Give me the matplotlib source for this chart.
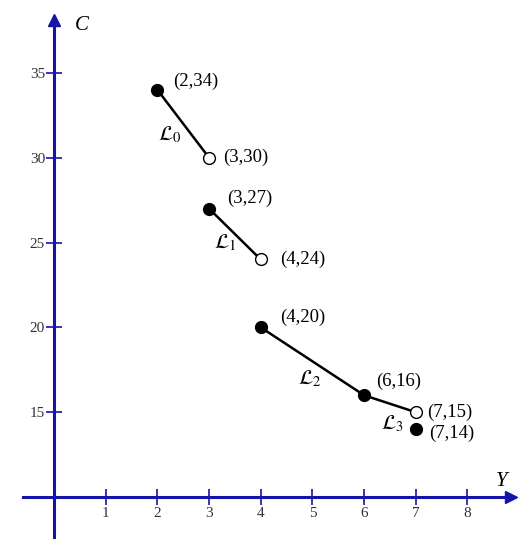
import matplotlib.pyplot as plt

plt.rcParams['font.family'] = ['Liberation Serif', 'DejaVu Serif']
plt.rcParams['mathtext.fontset'] = 'stix'

# pieces of the step function, start and end of each segment
seg_names = [r'$\mathcal{L}_0$', r'$\mathcal{L}_1$', r'$\mathcal{L}_2$', r'$\mathcal{L}_3$']
seg_y = [[2, 3], [3, 4], [4, 6], [6, 7]]
seg_c = [[34, 30], [27, 24], [20, 16], [16, 15]]

# closed (filled) and open end points
filled_y = [2, 3, 4, 6, 7]
filled_c = [34, 27, 20, 16, 14]
open_y = [3, 4, 7]
open_c = [30, 24, 15]

# coordinate labels next to the points
pt_y = [2, 3, 3, 4, 4, 6, 7, 7]
pt_c = [34, 30, 27, 24, 20, 16, 15, 14]
pt_text = ['(2,34)', '(3,30)', '(3,27)', '(4,24)', '(4,20)', '(6,16)', '(7,15)', '(7,14)']
pt_offset = [(11, 6), (10, 0), (13, 7), (14, 0), (14, 7), (9, 10), (8, 0), (10, -3)]

# where the segment names sit
name_y = [2.24, 3.31, 4.95, 6.56]
name_c = [31.35, 24.95, 16.95, 14.3]

xticks = [1, 2, 3, 4, 5, 6, 7, 8]
yticks = [15, 20, 25, 30, 35]

blue = '#1414a8'

fig = plt.figure(figsize=(5.32, 5.5), dpi=100)
ax = fig.add_axes([0, 0, 1, 1])
ax.set_xlim(-1.045, 9.25)
ax.set_ylim(6.88, 39.29)

for s in ['top', 'right']:
    ax.spines[s].set_visible(False)
ax.spines['left'].set_position(('data', 0))
ax.spines['bottom'].set_position(('data', 10))
ax.spines['left'].set_bounds(7.65, 38.0)
ax.spines['bottom'].set_bounds(-0.6, 8.75)
for s in ['left', 'bottom']:
    ax.spines[s].set_color(blue)
    ax.spines[s].set_linewidth(2.2)

ax.plot([0], [38.1], marker='^', color=blue, markersize=8.5, clip_on=False)
ax.plot([8.85], [10], marker='>', color=blue, markersize=8.5, clip_on=False)

ax.set_xticks(xticks)
ax.set_yticks(yticks)
ax.tick_params(direction='inout', length=11, width=1.2, color=blue,
               labelsize=11, labelcolor='#333333')
ax.tick_params(axis='x', pad=2)
ax.tick_params(axis='y', pad=1)

ax.text(0.4, 37.8, 'C', fontsize=15, style='italic', va='center')
ax.text(8.55, 10.9, 'Y', fontsize=15, style='italic', va='center')

for xs, cs in zip(seg_y, seg_c):
    ax.plot(xs, cs, color='black', linewidth=1.8, zorder=2)

ax.plot(filled_y, filled_c, 'o', color='black', markersize=8.5, linestyle='none', zorder=3)
ax.plot(open_y, open_c, 'o', markerfacecolor='white', markeredgecolor='black',
        markeredgewidth=1.0, markersize=8.5, linestyle='none', zorder=3)

for x, c, t, off in zip(pt_y, pt_c, pt_text, pt_offset):
    ax.annotate(t, (x, c), xytext=off, textcoords='offset points',
                fontsize=13.5, ha='left', va='center')

for x, c, n in zip(name_y, name_c, seg_names):
    ax.text(x, c, n, fontsize=15, ha='center', va='center')

fig.savefig('out.png', dpi=100)
